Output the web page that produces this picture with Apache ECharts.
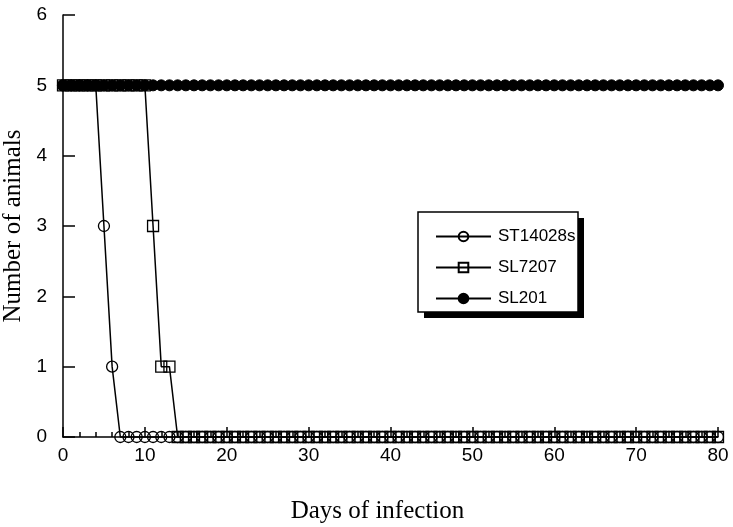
<!DOCTYPE html>
<html>
<head>
<meta charset="utf-8">
<script src="https://cdn.jsdelivr.net/npm/echarts@6/dist/echarts.min.js"></script>
<style>html,body{margin:0;padding:0;background:#fff}#c{width:733px;height:527px}</style>
</head>
<body>
<div id="c"></div>
<script>
var days = [
 0,1,2,3,4,5,6,7,8,9,
 10,11,12,13,14,15,16,17,18,19,
 20,21,22,23,24,25,26,27,28,29,
 30,31,32,33,34,35,36,37,38,39,
 40,41,42,43,44,45,46,47,48,49,
 50,51,52,53,54,55,56,57,58,59,
 60,61,62,63,64,65,66,67,68,69,
 70,71,72,73,74,75,76,77,78,79,
 80];
var st14028s = [
 5,5,5,5,5,3,1,0,0,0,
 0,0,0,0,0,0,0,0,0,0,
 0,0,0,0,0,0,0,0,0,0,
 0,0,0,0,0,0,0,0,0,0,
 0,0,0,0,0,0,0,0,0,0,
 0,0,0,0,0,0,0,0,0,0,
 0,0,0,0,0,0,0,0,0,0,
 0,0,0,0,0,0,0,0,0,0,
 0];
var sl7207 = [
 5,5,5,5,5,5,5,5,5,5,
 5,3,1,1,0,0,0,0,0,0,
 0,0,0,0,0,0,0,0,0,0,
 0,0,0,0,0,0,0,0,0,0,
 0,0,0,0,0,0,0,0,0,0,
 0,0,0,0,0,0,0,0,0,0,
 0,0,0,0,0,0,0,0,0,0,
 0,0,0,0,0,0,0,0,0,0,
 0];
var sl201 = [
 5,5,5,5,5,5,5,5,5,5,
 5,5,5,5,5,5,5,5,5,5,
 5,5,5,5,5,5,5,5,5,5,
 5,5,5,5,5,5,5,5,5,5,
 5,5,5,5,5,5,5,5,5,5,
 5,5,5,5,5,5,5,5,5,5,
 5,5,5,5,5,5,5,5,5,5,
 5,5,5,5,5,5,5,5,5,5,
 5];
var seriesNames = ['ST14028s', 'SL7207', 'SL201'];

function pairs(xs, ys){ return xs.map(function(x,i){ return [x, ys[i]]; }); }

var chart = echarts.init(document.getElementById('c'), null, {renderer:'canvas'});
chart.setOption({
  backgroundColor: '#fff',
  animation: false,
  grid: {left: 63, right: 15, top: 15, bottom: 90, containLabel: false, outerBoundsMode: 'none'},
  graphic: [
    {type: 'rect', z: 1, shape: {x: 424, y: 218, width: 160, height: 100}, style: {fill: '#000'}},
    {type: 'rect', z: 2, shape: {x: 418, y: 212, width: 160, height: 100}, style: {fill: '#fff', stroke: '#000', lineWidth: 1.5}}
  ],
  xAxis: {
    type: 'value', min: 0, max: 80, interval: 10,
    name: 'Days of infection', nameLocation: 'middle', nameGap: 62,
    nameTextStyle: {fontFamily: 'Liberation Serif', fontSize: 25, color: '#000', padding: [0, 26, 0, 0]},
    axisLine: {lineStyle: {color: '#000', width: 1.5}},
    axisTick: {inside: true, length: 10, lineStyle: {color: '#000', width: 1.5}},
    minorTick: {show: true, splitNumber: 5, length: 5, lineStyle: {color: '#000', width: 1.5}},
    axisLabel: {fontFamily: 'Liberation Sans', fontSize: 19, color: '#000', margin: 9},
    splitLine: {show: false}
  },
  yAxis: {
    type: 'value', min: 0, max: 6, interval: 1,
    name: 'Number of animals', nameLocation: 'middle', nameGap: 34,
    nameTextStyle: {fontFamily: 'Liberation Serif', fontSize: 25, color: '#000'},
    axisLine: {show: true, lineStyle: {color: '#000', width: 1.5}},
    axisTick: {show: true, inside: true, length: 12, lineStyle: {color: '#000', width: 1.5}},
    axisLabel: {fontFamily: 'Liberation Sans', fontSize: 19, color: '#000', margin: 16},
    splitLine: {show: false}
  },
  legend: {
    orient: 'vertical', left: 435, top: 228, z: 5,
    padding: 0, itemGap: 14, itemWidth: 55, itemHeight: 12,
    textStyle: {fontFamily: 'Liberation Sans', fontSize: 17, color: '#000', padding: [0,0,0,2], lineHeight: 17},
    data: seriesNames
  },
  series: [
    {
      name: seriesNames[0], type: 'line', data: pairs(days, st14028s), z: 3,
      symbol: 'circle', symbolSize: 11, clip: false,
      lineStyle: {color: '#000', width: 1.5},
      itemStyle: {color: 'rgba(255,255,255,0)', borderColor: '#000', borderWidth: 1.3}
    },
    {
      name: seriesNames[1], type: 'line', data: pairs(days, sl7207), z: 2,
      symbol: 'rect', symbolSize: 11, clip: false,
      lineStyle: {color: '#000', width: 1.5},
      itemStyle: {color: 'rgba(255,255,255,0)', borderColor: '#000', borderWidth: 1.3}
    },
    {
      name: seriesNames[2], type: 'line', data: pairs(days, sl201), z: 4,
      symbol: 'circle', symbolSize: 11, clip: false,
      lineStyle: {color: '#000', width: 1.5},
      itemStyle: {color: '#000', borderColor: '#000', borderWidth: 1}
    }
  ]
});
</script>
</body>
</html>
